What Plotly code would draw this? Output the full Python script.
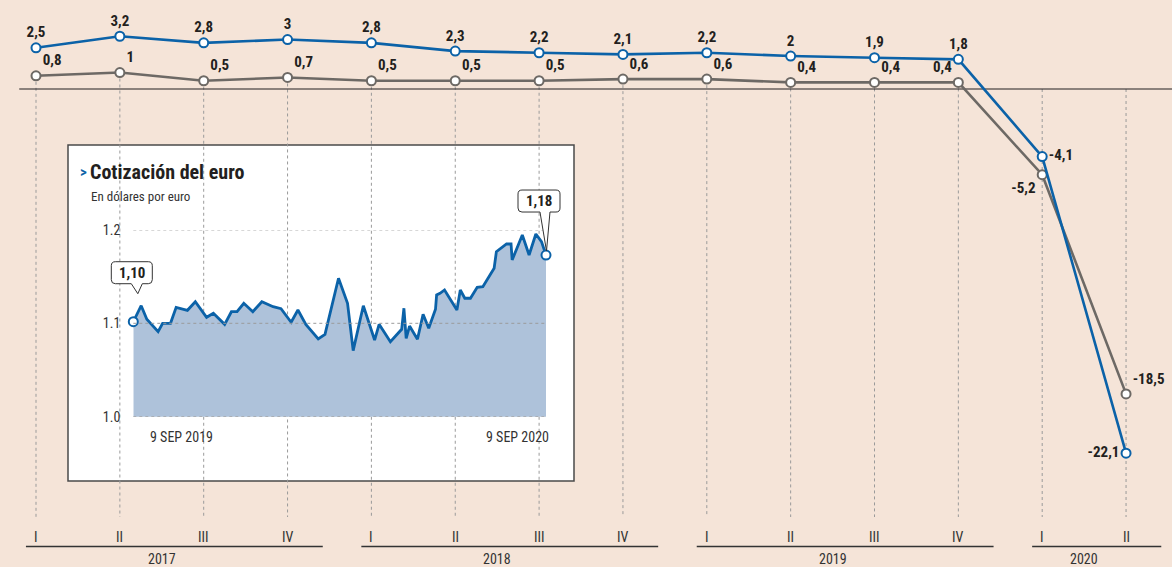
import datetime as dt
import plotly.graph_objects as go

# ---------------- data ----------------
quarters = ["I", "II", "III", "IV", "I", "II", "III", "IV", "I", "II", "III", "IV", "I", "II"]
years = ["2017", "2018", "2019", "2020"]
quarters_per_year = [4, 4, 4, 2]
blue_series = [2.5, 3.2, 2.8, 3.0, 2.8, 2.3, 2.2, 2.1, 2.2, 2.0, 1.9, 1.8, -4.1, -22.1]
gray_series = [0.8, 1.0, 0.5, 0.7, 0.5, 0.5, 0.5, 0.6, 0.6, 0.4, 0.4, 0.4, -5.2, -18.5]

euro_dates = [
    "2019-09-09", "2019-09-16", "2019-09-21", "2019-10-01", "2019-10-05", "2019-10-12",
    "2019-10-17", "2019-10-27", "2019-11-03", "2019-11-13", "2019-11-19", "2019-11-29",
    "2019-12-05", "2019-12-10", "2019-12-16", "2019-12-24", "2020-01-01", "2020-01-11",
    "2020-01-18", "2020-01-27", "2020-02-02", "2020-02-09", "2020-02-20", "2020-02-26",
    "2020-03-09", "2020-03-13", "2020-03-17", "2020-03-22", "2020-03-31", "2020-04-10",
    "2020-04-14", "2020-04-24", "2020-05-04", "2020-05-06", "2020-05-08", "2020-05-11",
    "2020-05-18", "2020-05-23", "2020-05-28", "2020-06-03", "2020-06-04", "2020-06-07",
    "2020-06-11", "2020-06-22", "2020-06-25", "2020-06-29", "2020-07-04", "2020-07-10",
    "2020-07-15", "2020-07-25", "2020-07-27", "2020-08-05", "2020-08-09", "2020-08-10",
    "2020-08-19", "2020-08-25", "2020-08-31", "2020-09-05", "2020-09-09",
]
euro_values = [
    1.1017, 1.1188, 1.1043, 1.0910, 1.1000, 1.1000,
    1.1171, 1.1139, 1.1231, 1.1064, 1.1107, 1.0989,
    1.1124, 1.1124, 1.1214, 1.1124, 1.1231, 1.1178,
    1.1156, 1.1011, 1.1142, 1.0989, 1.0832, 1.0882,
    1.1482, 1.1338, 1.1214, 1.0707, 1.1188, 1.0821,
    1.0989, 1.0803, 1.0936, 1.1161, 1.0839, 1.0971,
    1.0829, 1.1096, 1.0946, 1.1150, 1.1303, 1.1321,
    1.1357, 1.1142, 1.1357, 1.1268, 1.1268, 1.1385,
    1.1392, 1.1589, 1.1767, 1.1849, 1.1849, 1.1678,
    1.1945, 1.1731, 1.1956, 1.1874, 1.1731,
]
euro_ticks = [1.0, 1.1, 1.2]
euro_callouts = ["1,10", "1,18"]
euro_date_labels = ["9 SEP 2019", "9 SEP 2020"]
inset_title = "Cotización del euro"
inset_subtitle = "En dólares por euro"

# ---------------- styles ----------------
W, H = 1172, 567
BG = "#F5E4D8"
BLUE = "#0B62A8"
GRAY = "#6D6965"
FILL = "#AEC2DA"
TXT = "#231F20"
LBL = "#333333"
FONT = "Roboto Condensed, Liberation Sans Narrow, DejaVu Sans Condensed, Roboto, sans-serif"


def px(x):
    return x / W


def py(y):
    return 1 - y / H


# main axis scale (pixel geometry)
X0_PX, DX_PX = 36.0, 83.85
ZERO_PX, PX_PER_UNIT = 89.0, 16.48
x_range = [-X0_PX / DX_PX, (W - X0_PX) / DX_PX]
y_range = [-(H - ZERO_PX) / PX_PER_UNIT, ZERO_PX / PX_PER_UNIT]
BOTTOM_VAL = -(517 - ZERO_PX) / PX_PER_UNIT

# inset geometry
IN_L, IN_R, IN_B, IN_T = 133.3, 546.0, 416.7, 229.9
IN_RANGE = [1.0, 1.2]

idx = list(range(len(quarters)))


def fmt(v):
    return f"{v:g}".replace(".", ",")


blue_pos = ["top center"] * 12 + ["middle right", "middle left"]
gray_pos = ["top right"] * 11 + ["top left", "bottom left", "top right"]

fig = go.Figure()

fig.add_trace(go.Scatter(
    x=idx, y=gray_series, mode="lines+markers+text",
    line=dict(color=GRAY, width=2.6),
    marker=dict(size=9, color="white", line=dict(color=GRAY, width=2)),
    text=[fmt(v) for v in gray_series], textposition=gray_pos,
    textfont=dict(family=FONT, size=15, color=TXT, weight="bold"),
    cliponaxis=False, hoverinfo="skip",
))
fig.add_trace(go.Scatter(
    x=idx, y=blue_series, mode="lines+markers+text",
    line=dict(color=BLUE, width=2.6),
    marker=dict(size=9, color="white", line=dict(color=BLUE, width=2)),
    text=[fmt(v) for v in blue_series], textposition=blue_pos,
    textfont=dict(family=FONT, size=15, color=TXT, weight="bold"),
    cliponaxis=False, hoverinfo="skip",
))

# inset series
fig.add_trace(go.Scatter(
    x=euro_dates, y=euro_values, mode="lines", xaxis="x2", yaxis="y2",
    line=dict(color=BLUE, width=2.8), fill="tozeroy", fillcolor=FILL,
    hoverinfo="skip",
))
fig.add_trace(go.Scatter(
    x=[euro_dates[0], euro_dates[-1]], y=[euro_values[0], euro_values[-1]],
    mode="markers", xaxis="x2", yaxis="y2",
    marker=dict(size=9, color="white", line=dict(color=BLUE, width=2)),
    cliponaxis=False, hoverinfo="skip",
))

shapes = []
# dotted vertical guides
for i in idx:
    top = gray_series[i] if gray_series[i] > 0 else 0
    shapes.append(dict(type="line", xref="x", yref="y", x0=i, x1=i, y0=top, y1=BOTTOM_VAL,
                       line=dict(color="#9A9A9A", width=1, dash="dot"), layer="below"))
# zero line
shapes.append(dict(type="line", xref="x", yref="y", x0=-0.2, x1=x_range[1], y0=0, y1=0,
                   line=dict(color="#231F20", width=1.2), layer="below"))
# inset box
shapes.append(dict(type="rect", xref="paper", yref="paper", x0=px(68), x1=px(574),
                   y0=py(481), y1=py(145), fillcolor="white",
                   line=dict(color="#4A4A4A", width=1.5), layer="below"))
# inset gridlines
for t in euro_ticks:
    shapes.append(dict(type="line", xref="x2 domain", yref="y2", x0=0, x1=1, y0=t, y1=t,
                       line=dict(color="#9A9A9A", width=1, dash="dot"), layer="above"))

# year underline segments + labels
annotations = []
start = 0
for yr, n in zip(years, quarters_per_year):
    first, last = start, start + n - 1
    shapes.append(dict(type="line", xref="x", yref="paper", x0=first - 0.12, x1=last + 0.42,
                       y0=py(546.5), y1=py(546.5), line=dict(color=LBL, width=1.5)))
    annotations.append(dict(x=(first + last) / 2, y=py(559), xref="x", yref="paper",
                            xanchor="center", yanchor="middle",
                            text=yr, showarrow=False,
                            font=dict(family=FONT, size=14, color=LBL)))
    start += n

for i, q in zip(idx, quarters):
    annotations.append(dict(x=i, y=py(537), xref="x", yref="paper", text=q, showarrow=False,
                            xanchor="center", yanchor="middle",
                            font=dict(family=FONT, size=14, color=LBL)))


# callout bubbles: anchor pixel computed from the data point through the inset scale
d0 = dt.date.fromisoformat(euro_dates[0])
d1 = dt.date.fromisoformat(euro_dates[-1])


def inset_px(date_str, v):
    d = dt.date.fromisoformat(date_str)
    fx = (d - d0).days / (d1 - d0).days
    fy = (v - IN_RANGE[0]) / (IN_RANGE[1] - IN_RANGE[0])
    return IN_L + fx * (IN_R - IN_L), IN_B - fy * (IN_B - IN_T)


def bubble(anchor, L, R, B, T, t0, tip, t1, r=4):
    ax, ay = anchor

    def P(dx, dy):
        return f"{px(ax + dx):.5f},{py(ay - dy):.5f}"

    return (f"M {P(L + r, B)} L {P(t0, B)} L {P(tip[0], tip[1])} L {P(t1, B)} L {P(R - r, B)} "
            f"Q {P(R, B)} {P(R, B + r)} L {P(R, T - r)} Q {P(R, T)} {P(R - r, T)} "
            f"L {P(L + r, T)} Q {P(L, T)} {P(L, T - r)} L {P(L, B + r)} Q {P(L, B)} {P(L + r, B)} Z")


a0 = inset_px(euro_dates[0], euro_values[0])
a1 = inset_px(euro_dates[-1], euro_values[-1])
shapes.append(dict(type="path", xref="paper", yref="paper",
                   path=bubble(a0, -22, 19, 38, 60, -2, (4.5, 28), 9),
                   fillcolor="white", line=dict(color=LBL, width=1), layer="above"))
shapes.append(dict(type="path", xref="paper", yref="paper",
                   path=bubble(a1, -28, 14, 43, 65, -6, (0.5, 4), 4),
                   fillcolor="white", line=dict(color=LBL, width=1), layer="above"))
annotations.append(dict(x=euro_dates[0], y=euro_values[0], xref="x2", yref="y2",
                        text=euro_callouts[0], showarrow=False, xshift=-1.5, yshift=49,
                        xanchor="center", yanchor="middle",
                        font=dict(family=FONT, size=15, color=TXT, weight="bold")))
annotations.append(dict(x=euro_dates[-1], y=euro_values[-1], xref="x2", yref="y2",
                        text=euro_callouts[1], showarrow=False, xshift=-7, yshift=54,
                        xanchor="center", yanchor="middle",
                        font=dict(family=FONT, size=15, color=TXT, weight="bold")))

# inset date labels
annotations.append(dict(x=px(148), y=py(437), xref="paper", yref="paper",
                        xanchor="left", yanchor="middle",
                        text=euro_date_labels[0], showarrow=False,
                        font=dict(family=FONT, size=14, color=LBL)))
annotations.append(dict(x=px(551), y=py(437), xref="paper", yref="paper",
                        xanchor="right", yanchor="middle",
                        text=euro_date_labels[1], showarrow=False,
                        font=dict(family=FONT, size=14, color=LBL)))
# inset title
annotations.append(dict(x=px(78), y=py(172), xref="paper", yref="paper",
                        xanchor="left", yanchor="middle",
                        text=">", showarrow=False,
                        font=dict(family=FONT, size=15, color=BLUE, weight="bold")))
annotations.append(dict(x=px(88), y=py(172), xref="paper", yref="paper",
                        xanchor="left", yanchor="middle",
                        text=inset_title, showarrow=False,
                        font=dict(family=FONT, size=20, color=TXT, weight="bold")))
annotations.append(dict(x=px(89), y=py(196), xref="paper", yref="paper",
                        xanchor="left", yanchor="middle",
                        text=inset_subtitle, showarrow=False,
                        font=dict(family=FONT, size=13, color=LBL)))

fig.update_layout(
    width=W, height=H,
    margin=dict(l=0, r=0, t=0, b=0, pad=0, autoexpand=False),
    paper_bgcolor=BG, plot_bgcolor="rgba(0,0,0,0)", showlegend=False,
    xaxis=dict(range=x_range, visible=False, domain=[0, 1], fixedrange=True),
    yaxis=dict(range=y_range, visible=False, domain=[0, 1], fixedrange=True),
    xaxis2=dict(type="date", domain=[px(IN_L), px(IN_R)], anchor="y2",
                range=[euro_dates[0], euro_dates[-1]], showticklabels=False,
                showgrid=False, zeroline=False, showline=False, ticks="", fixedrange=True),
    yaxis2=dict(domain=[py(IN_B), py(IN_T)], anchor="x2", range=IN_RANGE,
                tickvals=euro_ticks, ticktext=[f"{t:.1f}" for t in euro_ticks],
                showgrid=False, zeroline=False, showline=False, ticks="",
                ticklabelstandoff=12, fixedrange=True,
                tickfont=dict(family=FONT, size=14, color=LBL)),
    shapes=shapes, annotations=annotations,
)

fig.write_html(
    "out.html",
    config={"displayModeBar": False},
    post_script="document.body.style.margin='0';document.body.style.overflow='hidden';",
)
